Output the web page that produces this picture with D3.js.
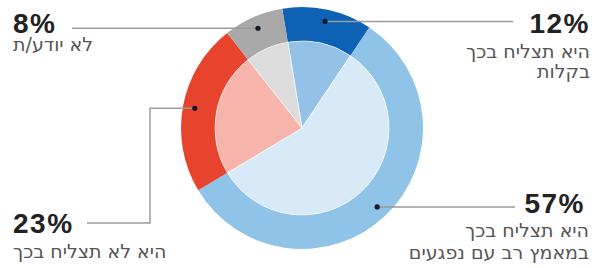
<!DOCTYPE html>
<html>
<head>
<meta charset="utf-8">
<script src="https://cdn.jsdelivr.net/npm/d3@7"></script>
<style>
  body { margin: 0; background: #fff; }
  .num { font-family: "Liberation Sans", Arial, sans-serif; font-weight: bold; font-size: 28px; fill: #222; letter-spacing: 1.5px; }
  .sub { font-family: "DejaVu Sans", sans-serif; font-size: 19px; fill: #555; }
</style>
</head>
<body>
<script>
// data
var values = [12, 57, 23, 8];
var percentLabels = ["12%", "57%", "23%", "8%"];
var subLabels = [
  ["היא תצליח בכך", "בקלות"],
  ["היא תצליח בכך", "במאמץ רב עם נפגעים"],
  ["היא לא תצליח בכך"],
  ["לא יודע/ת"]
];
var outerColors = ["#0e62b6", "#8fc3e7", "#e8442d", "#a9a9a9"];
var innerColors = ["#93c1e7", "#d8eaf7", "#f6b4ab", "#dcdcdc"];

var width = 599, height = 268;
var cx = 302, cy = 128;
var rOuter = 121, rInner = 87, rDot = 109;

var svg = d3.select("body").append("svg")
    .attr("width", width)
    .attr("height", height);

var start = -9.4 * Math.PI / 180;
var pie = d3.pie().sort(null).value(function(d) { return d; })
    .startAngle(start).endAngle(start + 2 * Math.PI);
var arcs = pie(values);

var ring = d3.arc().innerRadius(rInner).outerRadius(rOuter);
var core = d3.arc().innerRadius(0).outerRadius(rInner);
var dotArc = d3.arc().innerRadius(rDot).outerRadius(rDot);

var g = svg.append("g").attr("transform", "translate(" + cx + "," + cy + ")");

g.selectAll(".ring")
    .data(arcs)
  .enter().append("path")
    .attr("class", "ring")
    .attr("d", ring)
    .attr("fill", function(d, i) { return outerColors[i]; });

g.selectAll(".core")
    .data(arcs)
  .enter().append("path")
    .attr("class", "core")
    .attr("d", core)
    .attr("fill", function(d, i) { return innerColors[i]; })
    .attr("stroke", "#fff")
    .attr("stroke-width", 0.6);

// dot positions in page coords
var dots = arcs.map(function(d) {
  var c = dotArc.centroid(d);
  return [c[0] + cx, c[1] + cy];
});

// leader lines: layout per label
var lineStroke = "#9a9a9a";
var leaders = [
  function(p) { return [p, [513, p[1]]]; },
  function(p) { return [p, [515, p[1]]]; },
  function(p) { return [p, [150, p[1]], [150, 223], [87, 223]]; },
  function(p) { return [p, [72, p[1]]]; }
];

svg.selectAll(".leader")
    .data(dots)
  .enter().append("path")
    .attr("class", "leader")
    .attr("d", function(p, i) { return d3.line()(leaders[i](p)); })
    .attr("fill", "none")
    .attr("stroke", lineStroke)
    .attr("stroke-width", 1.5);

svg.selectAll(".dot")
    .data(dots)
  .enter().append("circle")
    .attr("class", "dot")
    .attr("cx", function(p) { return p[0]; })
    .attr("cy", function(p) { return p[1]; })
    .attr("r", 2.6)
    .attr("fill", "#111a2a");

// label blocks
var labelPos = [
  {x: 590, y: 33, anchor: "end", sx: 590, lines: [58, 78]},
  {x: 585, y: 213, anchor: "end", sx: 589, lines: [237, 259]},
  {x: 13, y: 233, anchor: "start", sx: 13, lines: [258]},
  {x: 13, y: 33, anchor: "start", sx: 13, lines: [51]}
];

labelPos.forEach(function(p, i) {
  svg.append("text")
      .attr("class", "num")
      .attr("x", p.x)
      .attr("y", p.y)
      .attr("text-anchor", p.anchor)
      .text(percentLabels[i]);
  subLabels[i].forEach(function(s, j) {
    svg.append("text")
        .attr("class", "sub")
        .attr("x", p.sx)
        .attr("y", p.lines[j])
        .attr("text-anchor", p.anchor)
        .text(s);
  });
});
</script>
</body>
</html>
